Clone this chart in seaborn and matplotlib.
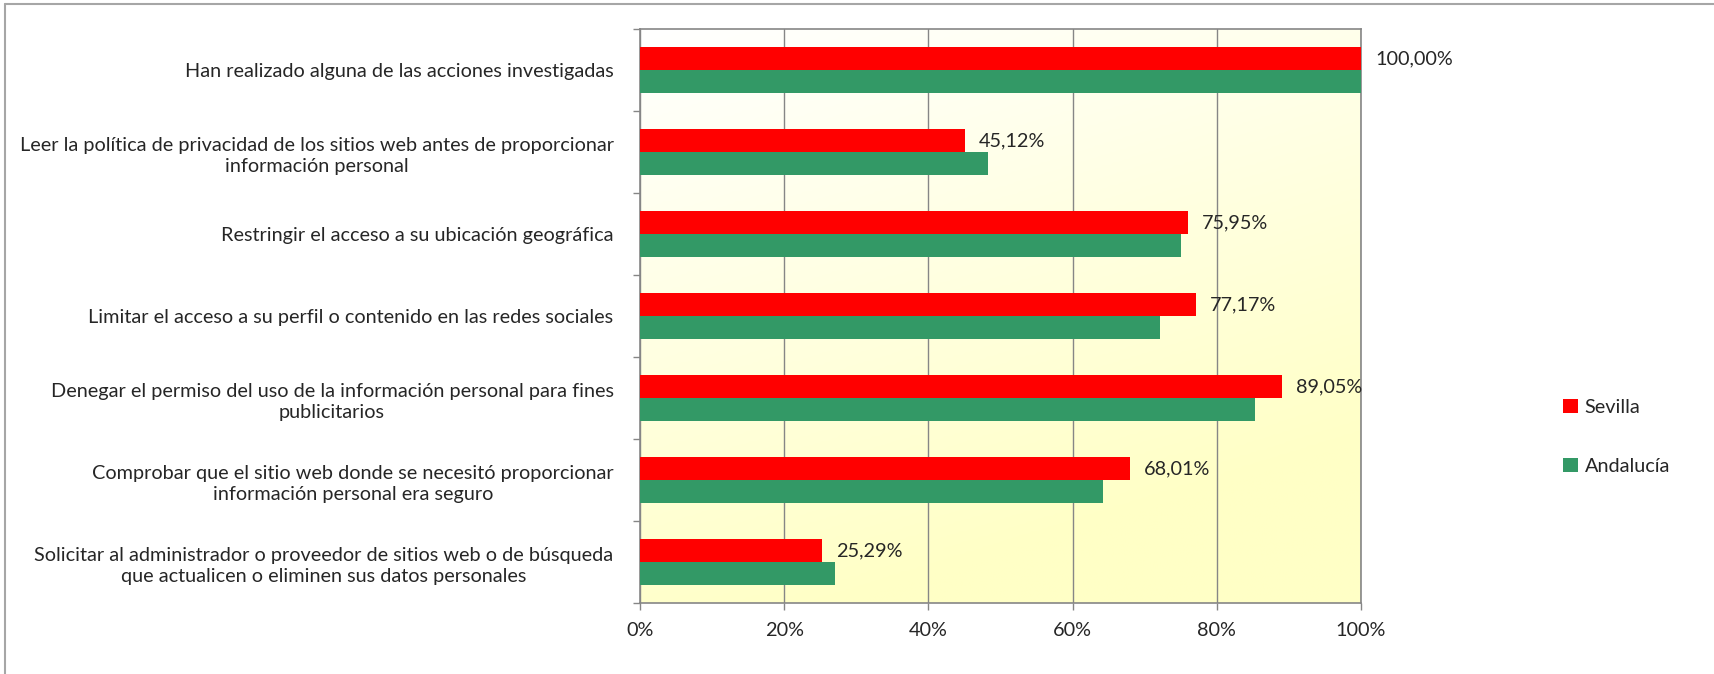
import numpy as np
import pandas as pd
import matplotlib.pyplot as plt
from matplotlib.lines import Line2D
from matplotlib.colors import LinearSegmentedColormap
import seaborn as sns

# datos
acciones = [
    "Han realizado alguna de las acciones investigadas",
    "Leer la política de privacidad de los sitios web antes de proporcionar\ninformación personal",
    "Restringir el acceso a su ubicación geográfica",
    "Limitar el acceso a su perfil o contenido en las redes sociales",
    "Denegar el permiso del uso de la información personal para fines\npublicitarios",
    "Comprobar que el sitio web donde se necesitó proporcionar\ninformación personal era seguro",
    "Solicitar al administrador o proveedor de sitios web o de búsqueda\nque actualicen o eliminen sus datos personales",
]
sevilla = [100.00, 45.12, 75.95, 77.17, 89.05, 68.01, 25.29]
andalucia = [100.00, 48.2, 75.0, 72.1, 85.3, 64.2, 27.1]
series = ["Sevilla", "Andalucía"]
colores = {"Sevilla": "#FF0000", "Andalucía": "#339966"}
xticks = [0, 20, 40, 60, 80, 100]

df = pd.DataFrame({
    "accion": acciones * 2,
    "valor": sevilla + andalucia,
    "serie": ["Sevilla"] * len(acciones) + ["Andalucía"] * len(acciones),
})

sns.set_theme(style="white")
plt.rcParams["font.family"] = ["Lato", "DejaVu Sans"]
fs = 14.3

fig = plt.figure(figsize=(17.14, 6.74), dpi=100)
ax = fig.add_axes([640 / 1714, 1 - 603 / 674, 721 / 1714, 574 / 674])

# fondo degradado blanco -> amarillo claro
yy, xx = np.mgrid[0:1:200j, 0:1:200j]
t = np.clip(0.9 * yy + 0.35 * xx, 0, 1)
cmap = LinearSegmentedColormap.from_list("fondo", ["#FFFFFF", "#FFFFC6"])
ax.imshow(t, cmap=cmap, vmin=0, vmax=1, extent=[0, 100, len(acciones) - 0.5, -0.5],
          aspect="auto", zorder=0, interpolation="bilinear")

sns.barplot(data=df, x="valor", y="accion", hue="serie", hue_order=series,
            order=acciones, orient="h", palette=colores, width=0.56,
            linewidth=0, saturation=1, ax=ax, zorder=3)

ax.set_xlim(0, 100)
ax.set_ylim(len(acciones) - 0.5, -0.5)
ax.set_xlabel("")
ax.set_ylabel("")

ax.set_xticks(xticks)
ax.set_xticklabels([f"{v}%" for v in xticks], fontsize=fs)
ax.tick_params(axis="x", direction="out", length=5, width=1, color="#868686",
               pad=9, bottom=True)
ax.grid(axis="x", color="#868686", linewidth=1, zorder=1)
ax.grid(axis="y", visible=False)
ax.set_axisbelow(True)

ax.tick_params(axis="y", which="major", length=0, pad=19, labelsize=fs)
for lbl in ax.get_yticklabels():
    lbl.set_multialignment("center")
    lbl.set_linespacing(1.35)
ax.set_yticks(np.arange(len(acciones) + 1) - 0.5, minor=True)
ax.tick_params(axis="y", which="minor", direction="out", length=5, width=1,
               color="#868686", left=True)

for s in ax.spines.values():
    s.set_color("#868686")
    s.set_linewidth(1.2)

# etiquetas solo para Sevilla
ax.bar_label(ax.containers[0], labels=[f"{v:.2f}%".replace(".", ",") for v in sevilla],
             padding=10, fontsize=fs, clip_on=False)

handles, labels = ax.get_legend_handles_labels()
ax.get_legend().remove()
fig.legend(handles, labels, loc="center left",
           bbox_to_anchor=(1545 / 1714, 1 - 437 / 674), frameon=False,
           fontsize=fs, handlelength=0.75, handleheight=0.75,
           handletextpad=0.35, labelspacing=2.1)

# marco exterior
gris = "#A6A6A6"
fig.add_artist(Line2D([5 / 1714, 5 / 1714], [0, 1 - 4 / 674], color=gris, lw=1.5))
fig.add_artist(Line2D([5 / 1714, 1], [1 - 4 / 674, 1 - 4 / 674], color=gris, lw=1.5))

fig.savefig("out.png", dpi=100)
